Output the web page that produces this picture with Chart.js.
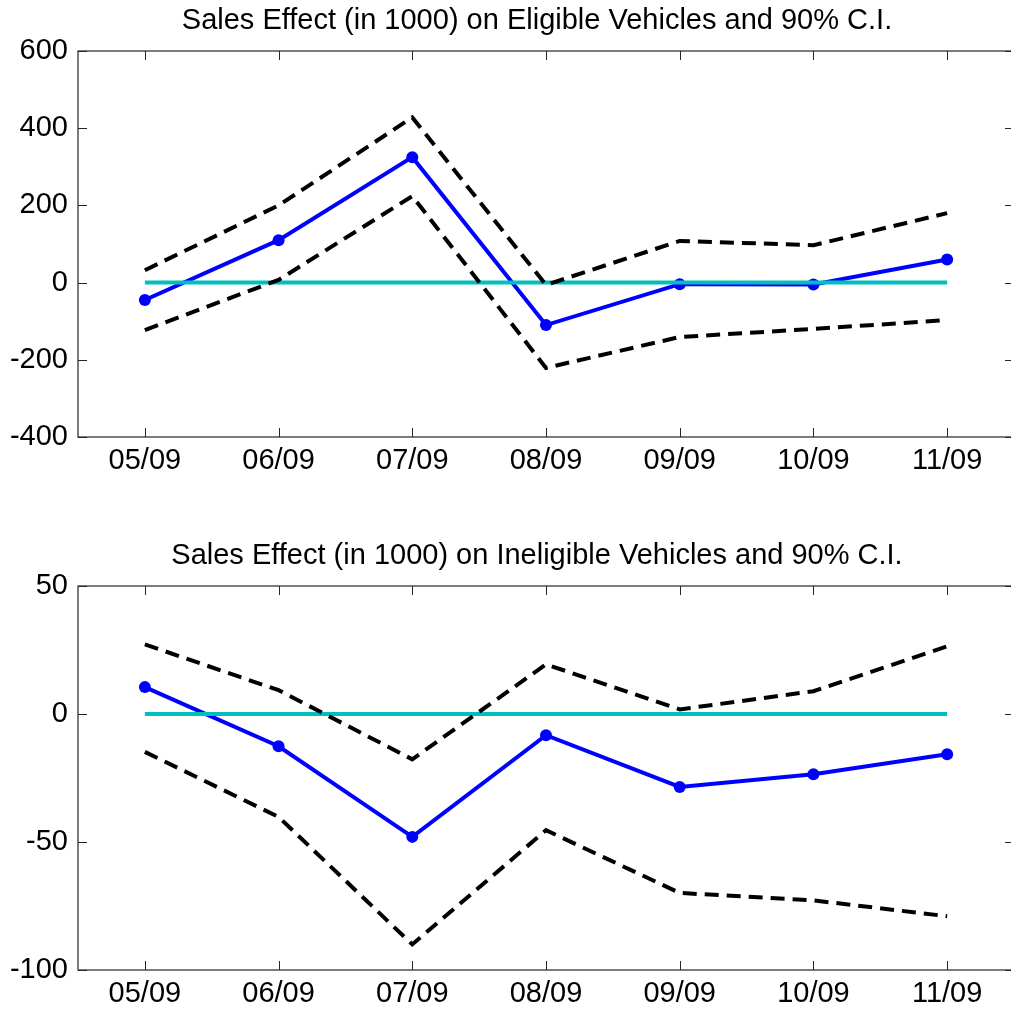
<!DOCTYPE html>
<html>
<head>
<meta charset="utf-8">
<script src="https://cdn.jsdelivr.net/npm/chart.js@4.4.1/dist/chart.umd.min.js"></script>
<style>
  html, body { margin: 0; padding: 0; overflow: hidden; background: #fff; }
  #top, #bottom { position: absolute; left: 0; display: block; }
  #top { top: 0; }
  #bottom { top: 500px; }
</style>
</head>
<body>
<canvas id="top" width="1020" height="500"></canvas>
<canvas id="bottom" width="1020" height="511"></canvas>
<script>
// ===== DADOS =====
const meses = ["05/09", "06/09", "07/09", "08/09", "09/09", "10/09", "11/09"]

// Elegíveis (mil)
const elegEfeito = [-45, 110, 325, -110, -4, -5, 60]
const elegSup    = [32, 200, 428, -6, 108, 97, 180]
const elegInf    = [-123, 7, 224, -221, -141, -120, -97]

// Inelegíveis (mil)
const ineEfeito = [10.5, -12.6, -48, -8.3, -28.5, -23.5, -15.7]
const ineSup    = [27.2, 9.3, -17.7, 19.4, 1.8, 8.9, 26.4]
const ineInf    = [-14.8, -40.2, -90, -45.4, -69.9, -72.8, -79]

const linhaZero = [0, 0, 0, 0, 0, 0, 0]

const ticksElegY = { min: -400, max: 600, step: 200 }
const ticksIneY  = { min: -100, max: 50, step: 50 }

const FONTE = "'Liberation Sans', Arial, Helvetica, sans-serif"

// ===== PLUGIN: caixa estilo MATLAB com ticks para dentro + título =====
const caixaMatlab = {
    id: "caixaMatlab",
    afterDraw(chart, args, opts) {
        const ctx = chart.ctx
        const a = chart.chartArea
        const tl = 9
        ctx.save()
        ctx.strokeStyle = "#262626"
        ctx.lineWidth = 1.2
        ctx.strokeRect(a.left, a.top, a.right - a.left, a.bottom - a.top)

        ctx.beginPath()
        const sy = chart.scales.y
        sy.ticks.forEach((t, i) => {
            const py = Math.round(sy.getPixelForTick(i)) + 0.5
            ctx.moveTo(a.left, py); ctx.lineTo(a.left + tl, py)
            ctx.moveTo(a.right, py); ctx.lineTo(a.right - tl, py)
        })
        const sx = chart.scales.x
        sx.ticks.forEach((t, i) => {
            const px = Math.round(sx.getPixelForTick(i)) + 0.5
            ctx.moveTo(px, a.bottom); ctx.lineTo(px, a.bottom - tl)
            ctx.moveTo(px, a.top); ctx.lineTo(px, a.top + tl)
        })
        ctx.lineWidth = 1
        ctx.stroke()

        // título
        ctx.fillStyle = "#000"
        ctx.font = opts.fonte
        ctx.textAlign = "center"
        ctx.textBaseline = "alphabetic"
        ctx.fillText(opts.texto, opts.centroX, a.top - opts.acima)
        ctx.restore()
    }
}

function criarGrafico(id, titulo, efeito, sup, inf, eixoY, topo, alturaX) {
    return new Chart(document.getElementById(id), {
        type: "line",
        data: {
            labels: meses,
            datasets: [
                {
                    data: sup,
                    borderColor: "#000",
                    borderWidth: 4,
                    borderDash: [14, 8],
                    pointRadius: 0,
                    tension: 0
                },
                {
                    data: inf,
                    borderColor: "#000",
                    borderWidth: 4,
                    borderDash: [14, 8],
                    pointRadius: 0,
                    tension: 0
                },
                {
                    data: linhaZero,
                    borderColor: "#00BFBF",
                    borderWidth: 4,
                    pointRadius: 0,
                    tension: 0
                },
                {
                    data: efeito,
                    borderColor: "#0000FF",
                    backgroundColor: "#0000FF",
                    borderWidth: 4,
                    pointRadius: 6,
                    pointBorderWidth: 0,
                    tension: 0
                }
            ]
        },
        options: {
            responsive: false,
            animation: false,
            layout: { padding: { left: 0, right: 4, top: topo, bottom: 0 } },
            plugins: {
                legend: { display: false },
                title: { display: false },
                tooltip: { enabled: false },
                caixaMatlab: {
                    texto: titulo,
                    fonte: "29px " + FONTE,
                    centroX: 537,
                    acima: 22
                }
            },
            scales: {
                x: {
                    type: "category",
                    offset: true,
                    grid: { display: false, drawTicks: false },
                    border: { display: false },
                    ticks: {
                        autoSkip: false,
                        maxRotation: 0,
                        padding: 7,
                        color: "#000",
                        font: { family: FONTE, size: 29 }
                    },
                    afterFit(s) { s.height = alturaX }
                },
                y: {
                    min: eixoY.min,
                    max: eixoY.max,
                    grid: { display: false, drawTicks: false },
                    border: { display: false },
                    ticks: {
                        stepSize: eixoY.step,
                        padding: 10,
                        color: "#000",
                        font: { family: FONTE, size: 29 }
                    },
                    afterFit(s) { s.width = 78 }
                }
            }
        },
        plugins: [caixaMatlab]
    })
}

criarGrafico("top", "Sales Effect (in 1000) on Eligible Vehicles and 90% C.I.",
    elegEfeito, elegSup, elegInf, ticksElegY, 51, 63)
criarGrafico("bottom", "Sales Effect (in 1000) on Ineligible Vehicles and 90% C.I.",
    ineEfeito, ineSup, ineInf, ticksIneY, 86, 41)
</script>
</body>
</html>
